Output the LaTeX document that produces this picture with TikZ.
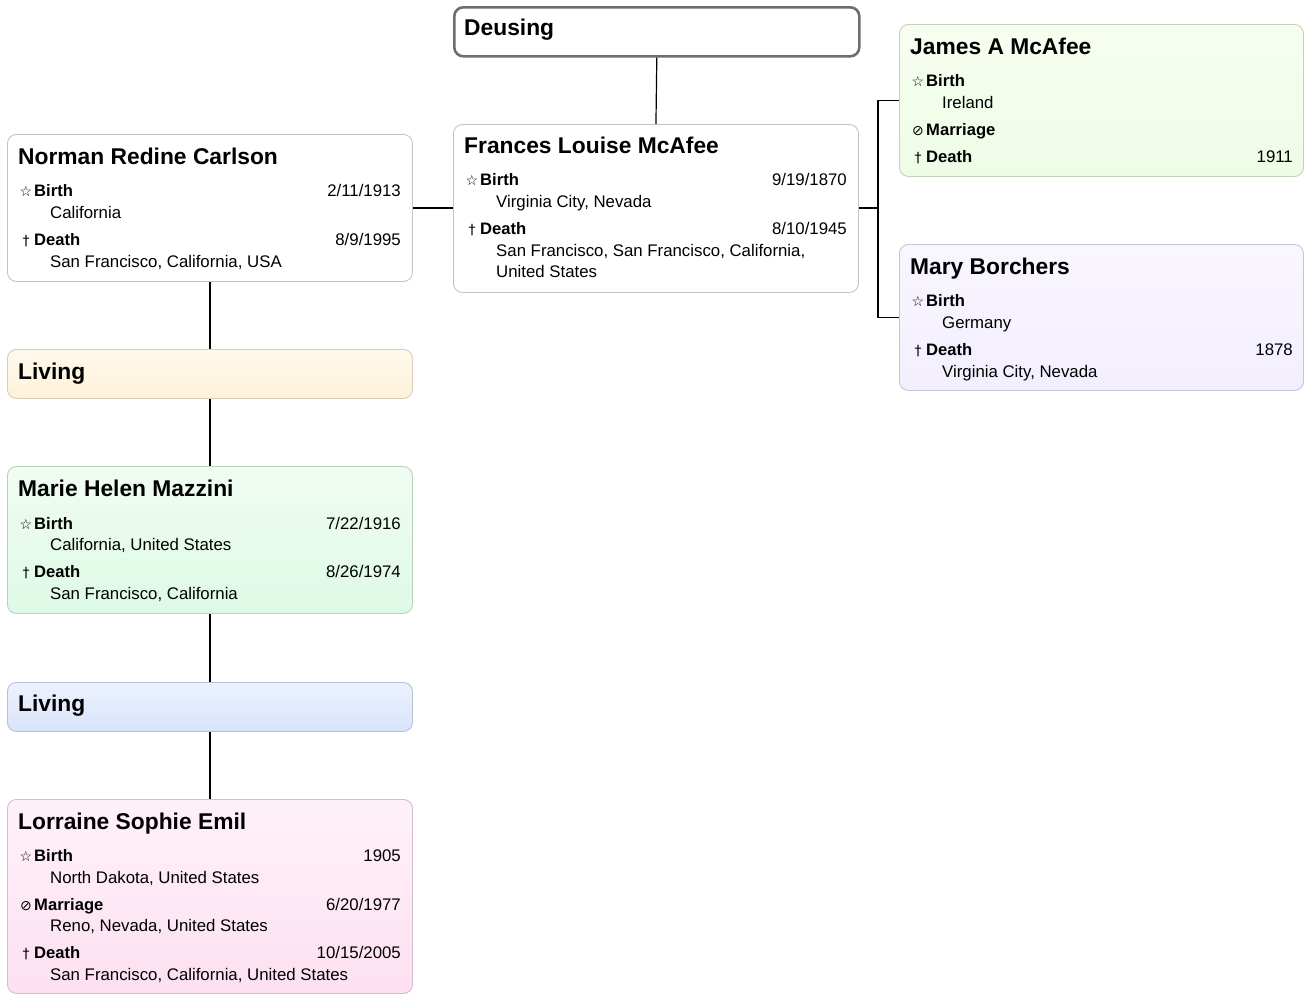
\documentclass[tikz,border=0pt]{standalone}
\usepackage{fontspec}
\setmainfont{Liberation Sans}
\newfontfamily\symfont{DejaVu Sans}
\definecolor{boxgray}{HTML}{C4C4C4}
\definecolor{deugray}{HTML}{6E6E6E}
\newcommand\ttlfont{\fontsize{22.8}{26}\selectfont\bfseries}
\newcommand\lblfont{\fontsize{16.6}{19}\selectfont\bfseries}
\newcommand\txtfont{\fontsize{16.8}{19}\selectfont}
\newcommand\icofont{\fontsize{14}{16}\selectfont\symfont}
\newcommand\evrow[6]{%
  \node[icn] (#1i) at (#2+19, #3) {#4};
  \node[lbl] (#1l) at (#2+27, #3) {#5};
  \node[dte] (#1d) at (#2+394, #3) {#6};}
\newcommand\plc[4]{\node[txt] (#1) at (#2+43, #3) {#4};}
\tikzset{
  pbox/.style={draw=boxgray, line width=0.9pt, rounded corners=9pt, anchor=north west,
     minimum width=405pt, inner sep=0pt},
  ttl/.style={anchor=base west, inner sep=0pt, font=\ttlfont},
  lbl/.style={anchor=base west, inner sep=0pt, font=\lblfont},
  txt/.style={anchor=base west, inner sep=0pt, font=\txtfont},
  dte/.style={anchor=base east, inner sep=0pt, font=\txtfont},
  icn/.style={anchor=base, inner sep=0pt, font=\icofont},
  link/.style={draw=black, line width=1.2pt}
}
\begin{document}
\begin{tikzpicture}[x=1pt,y=-1pt]
\useasboundingbox (0,0) rectangle (1304,994);
% boxes
\node[pbox, draw=deugray, line width=2.6pt, fill=white, minimum height=49pt] (deusing) at (453,6) {};
\node[pbox, fill=white, minimum height=168pt] (frances) at (453,124) {};
\node[pbox, fill=white, minimum height=147pt] (norman) at (7,134) {};
\node[pbox, top color={rgb,255:red,255;green,249;blue,236}, bottom color={rgb,255:red,253;green,241;blue,217}, draw={rgb,255:red,215;green,205;blue,185}, minimum height=49pt] (living1) at (7,349) {};
\node[pbox, top color={rgb,255:red,240;green,252;blue,242}, bottom color={rgb,255:red,222;green,250;blue,230}, draw={rgb,255:red,185;green,210;blue,192}, minimum height=147pt] (marie) at (7,466) {};
\node[pbox, top color={rgb,255:red,236;green,242;blue,254}, bottom color={rgb,255:red,218;green,228;blue,250}, draw={rgb,255:red,185;green,192;blue,212}, minimum height=49pt] (living2) at (7,682) {};
\node[pbox, top color={rgb,255:red,254;green,241;blue,249}, bottom color={rgb,255:red,253;green,224;blue,241}, draw={rgb,255:red,212;green,188;blue,202}, minimum height=194pt] (lorraine) at (7,799) {};
\node[pbox, top color={rgb,255:red,247;green,254;blue,241}, bottom color={rgb,255:red,238;green,252;blue,229}, draw={rgb,255:red,195;green,210;blue,188}, minimum height=152pt, minimum width=404pt] (james) at (899,24) {};
\node[pbox, top color={rgb,255:red,249;green,246;blue,255}, bottom color={rgb,255:red,243;green,238;blue,253}, draw={rgb,255:red,200;green,195;blue,212}, minimum height=146pt, minimum width=404pt] (mary) at (899,244) {};
% connectors
\draw[link] (deusing.south) -- (frances.north);
\draw[link] (norman.east) -- (norman.east -| frances.west);
\coordinate (fork) at (878,208);
\draw[link] (frances.east |- fork) -- (fork);
\draw[link] (james.west) -| (fork |- mary.west) -- (mary.west);
\draw[link] (norman.south) -- (living1.north);
\draw[link] (living1.south) -- (marie.north);
\draw[link] (marie.south) -- (living2.north);
\draw[link] (living2.south) -- (lorraine.north);
% texts
\node[ttl] (tdeu) at (464,35) {Deusing};
% Frances
\node[ttl] (tfra) at (464,153) {Frances Louise McAfee};
\evrow{fb}{453}{185}{☆}{Birth}{9/19/1870}
\plc{fbp}{453}{207}{Virginia City, Nevada}
\evrow{fd}{453}{234}{†}{Death}{8/10/1945}
\plc{fdp}{453}{256}{San Francisco, San Francisco, California,}
\plc{fdp2}{453}{277}{United States}
% Norman
\node[ttl] (tnor) at (18,164) {Norman Redine Carlson};
\evrow{nb}{7}{196}{☆}{Birth}{2/11/1913}
\plc{nbp}{7}{218}{California}
\evrow{nd}{7}{245}{†}{Death}{8/9/1995}
\plc{ndp}{7}{267}{San Francisco, California, USA}
% Living 1
\node[ttl] (tliv1) at (18,379) {Living};
% Marie
\node[ttl] (tmar) at (18,496) {Marie Helen Mazzini};
\evrow{mb}{7}{529}{☆}{Birth}{7/22/1916}
\plc{mbp}{7}{550}{California, United States}
\evrow{md}{7}{577}{†}{Death}{8/26/1974}
\plc{mdp}{7}{599}{San Francisco, California}
% Living 2
\node[ttl] (tliv2) at (18,711) {Living};
% Lorraine
\node[ttl] (tlor) at (18,829) {Lorraine Sophie Emil};
\evrow{lb}{7}{861}{☆}{Birth}{1905}
\plc{lbp}{7}{883}{North Dakota, United States}
\evrow{lm}{7}{910}{⊘}{Marriage}{6/20/1977}
\plc{lmp}{7}{931}{Reno, Nevada, United States}
\evrow{ld}{7}{958}{†}{Death}{10/15/2005}
\plc{ldp}{7}{980}{San Francisco, California, United States}
% James
\node[ttl] (tjam) at (910,54) {James A McAfee};
\evrow{jb}{899}{86}{☆}{Birth}{}
\plc{jbp}{899}{108}{Ireland}
\evrow{jm}{899}{135}{⊘}{Marriage}{}
\evrow{jd}{899}{162}{†}{Death}{1911}
% Mary
\node[ttl] (tmry) at (910,274) {Mary Borchers};
\evrow{yb}{899}{306}{☆}{Birth}{}
\plc{ybp}{899}{328}{Germany}
\evrow{yd}{899}{355}{†}{Death}{1878}
\plc{ydp}{899}{377}{Virginia City, Nevada}
\end{tikzpicture}
\end{document}
